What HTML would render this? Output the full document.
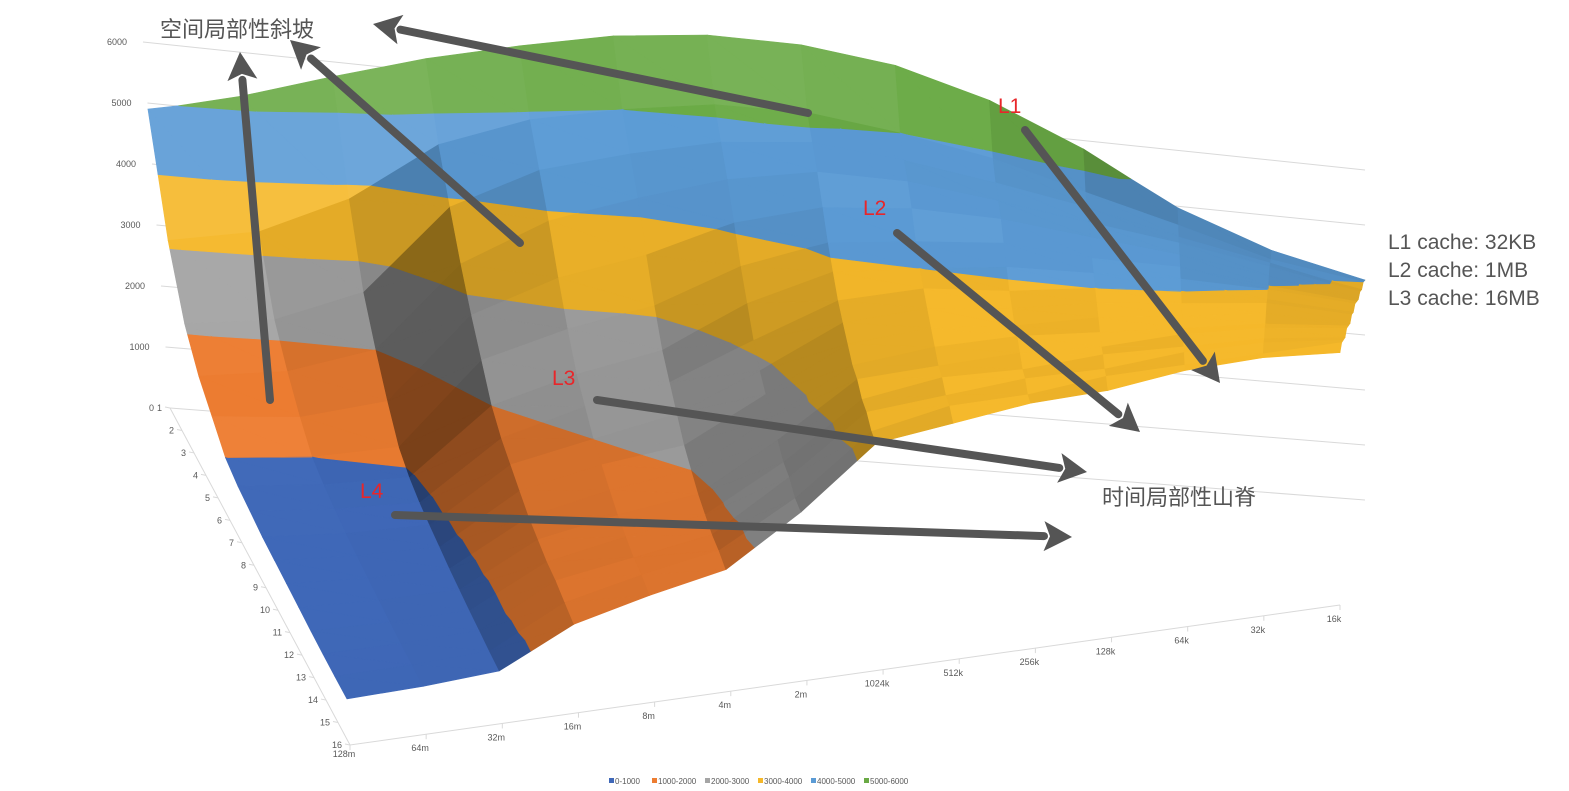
<!DOCTYPE html>
<html><head><meta charset="utf-8">
<style>
html,body{margin:0;padding:0;background:#fff;}
body{width:1569px;height:791px;overflow:hidden;font-family:"Liberation Sans","Noto Sans CJK SC",sans-serif;position:relative;}
svg{display:block}
</style></head>
<body>
<svg id="chart" width="1569" height="791" viewBox="0 0 1569 791" xmlns="http://www.w3.org/2000/svg">
<g id="grid"></g>
<g id="axes"></g>
<g id="surface"></g>
<g id="notes"></g>
<g id="legend"></g>
</svg>
<script>
const sizeLabels=["128m","64m","32m","16m","8m","4m","2m","1024k","512k","256k","128k","64k","32k","16k"];
const strideLabels=["1","2","3","4","5","6","7","8","9","10","11","12","13","14","15","16"];
const zTicks=[0,1000,2000,3000,4000,5000,6000];
const bandNames=["0-1000","1000-2000","2000-3000","3000-4000","4000-5000","5000-6000"];
const bandColors=["#3f68b8","#ed7d31","#a5a5a5","#f5b82a","#5b9bd5","#6aaa45"];
const s1=[4900,5200,5500,5700,5800,5900,5950,5950,5900,5700,5300,4700,4300,4000];
const s2=[3100,3300,3800,4600,4900,5000,5100,5100,5000,4900,4700,4500,4200,4000];
const s3=[2100,2200,2600,3900,4400,4600,4800,4900,4800,4700,4600,4400,4200,3900];
const s4=[1600,1700,2000,3300,3900,4200,4500,4700,4700,4600,4500,4400,4200,3900];
const s5=[1300,1300,1500,2800,3300,3600,4100,4400,4500,4500,4400,4300,4100,3800];
const s6=[1000,1000,1100,2400,2800,3100,3700,4100,4200,4300,4200,4200,4000,3800];
const s7=[900,900,950,2000,2400,2700,3400,3900,4000,4100,4100,4100,4000,3800];
const s8=[850,850,880,1800,2200,2500,3100,3700,3900,3900,4000,4000,3900,3700];
const s9=[800,800,850,1700,2000,2300,2900,3600,3800,3800,3900,3900,3900,3700];
const s10=[780,780,830,1600,1900,2100,2800,3500,3700,3700,3800,3800,3800,3600];
const s11=[760,760,810,1500,1800,2000,2700,3400,3600,3700,3700,3700,3700,3600];
const s12=[740,745,800,1450,1700,1900,2600,3400,3500,3600,3600,3700,3700,3600];
const s13=[720,735,790,1400,1650,1850,2500,3300,3500,3500,3600,3600,3600,3500];
const s14=[710,730,790,1400,1600,1800,2500,3300,3400,3500,3500,3600,3600,3500];
const s15=[700,725,780,1350,1600,1800,2400,3200,3400,3400,3500,3500,3500,3500];
const s16=[700,720,780,1300,1550,1750,2400,3200,3300,3400,3400,3500,3500,3400];
const rows=[s1,s2,s3,s4,s5,s6,s7,s8,s9,s10,s11,s12,s13,s14,s15,s16];

const NS="http://www.w3.org/2000/svg";
function el(tag,attrs,parent){const e=document.createElementNS(NS,tag);for(const k in attrs)e.setAttribute(k,attrs[k]);parent.appendChild(e);return e;}
const F00=[170,408],F01=[1365,500],F10=[350,745],F11=[1340,605];
function P(u,v,z){
  const bx=(1-u)*(1-v)*F00[0]+u*(1-v)*F01[0]+(1-u)*v*F10[0]+u*v*F11[0];
  let by=(1-u)*(1-v)*F00[1]+u*(1-v)*F01[1]+(1-u)*v*F10[1]+u*v*F11[1];
  const sp=Math.sin(Math.PI*u);
  by-=70*sp*sp*(1-v)*(1-v);
  const sc=(61+(55-61)*u)*(1+0.08*v+0.27*u*v);
  return [bx-z/1000*4.5*(1-u),by-z/1000*sc];
}
const nU=sizeLabels.length-1,nV=strideLabels.length-1;
const grid=document.getElementById('grid');
zTicks.forEach(z=>{
  const a=P(0,0,z),b=P(1,0,z);
  const l=el('line',{x1:a[0],y1:a[1],x2:b[0],y2:b[1],stroke:"#d9d9d9","stroke-width":1},grid);
  
  
  const t=el('text',{x:a[0]-16,y:a[1]+3,"font-size":9,fill:"#595959","text-anchor":"end"},grid);
  
  
  t.textContent=z;
});
const axes=document.getElementById('axes');
{const a=P(0,0,0),b=P(0,1,0),c=P(1,1,0);
 el('polyline',{points:`${a} ${b} ${c}`,fill:"none",stroke:"#d9d9d9","stroke-width":1},axes);}
strideLabels.forEach((s,j)=>{
  const p=P(0,j/nV,0);
  el('line',{x1:p[0],y1:p[1],x2:p[0]-5,y2:p[1]-1,stroke:"#d9d9d9"},axes);
  const t=el('text',{x:p[0]-8,y:p[1]+3,"font-size":9,fill:"#595959","text-anchor":"end"},axes);
  
  
  t.textContent=s;
});
sizeLabels.forEach((s,i)=>{
  const p=P(i/nU,1,0);
  el('line',{x1:p[0],y1:p[1],x2:p[0],y2:p[1]+5,stroke:"#d9d9d9"},axes);
  const t=el('text',{x:p[0]-6,y:p[1]+(i==0?12:17),"font-size":9,fill:"#595959","text-anchor":"middle"},axes);
  
  
  t.textContent=s;
});
function shade(hex,f){const n=parseInt(hex.slice(1),16);let r=n>>16,g=(n>>8)&255,b=n&255;
 if(f>1){r=r+(255-r)*(f-1);g=g+(255-g)*(f-1);b=b+(255-b)*(f-1);}else{r*=f;g*=f;b*=f;}
 return `rgb(${Math.round(r)},${Math.round(g)},${Math.round(b)})`;}
function clip(poly,lim,keepAbove){
  const out=[];
  for(let k=0;k<poly.length;k++){
    const a=poly[k],b=poly[(k+1)%poly.length];
    const ia=keepAbove?a[2]>=lim:a[2]<=lim, ib=keepAbove?b[2]>=lim:b[2]<=lim;
    if(ia)out.push(a);
    if(ia!==ib){const t=(lim-a[2])/(b[2]-a[2]);out.push([a[0]+(b[0]-a[0])*t,a[1]+(b[1]-a[1])*t,lim]);}
  }
  return out;
}
const tris=[];
for(let j=0;j<nV;j++)for(let i=0;i<nU;i++){
  const c=[[i,j],[i+1,j],[i+1,j+1],[i,j+1]];
  tris.push([c[0],c[1],c[2]]);tris.push([c[0],c[2],c[3]]);
}
tris.sort((a,b)=>{
  const da=a.reduce((s,p)=>s+p[1]*3-p[0]*0.5,0),db=b.reduce((s,p)=>s+p[1]*3-p[0]*0.5,0);return da-db;});
const surf=document.getElementById('surface');
tris.forEach(t=>{
  const verts=t.map(p=>[p[0]/nU,p[1]/nV,rows[p[1]][p[0]]]);
  const i0=t[0][0],j0=t[0][1];
  const dzu=rows[j0][Math.min(nU,i0+1)]-rows[j0][i0];
  const dzv=rows[Math.min(nV,j0+1)][i0]-rows[j0][i0];
  let f=1.0-Math.abs(dzu)/2600-dzv/9000;
  f=Math.max(0.5,Math.min(1.15,f));
  for(let k=0;k<6;k++){
    let pg=clip(verts,k*1000,true);
    if(pg.length<3)continue;
    if(k<5)pg=clip(pg,(k+1)*1000,false);
    if(pg.length<3)continue;
    const col=shade(bandColors[k],f);
    const pts=pg.map(q=>P(q[0],q[1],q[2]).map(x=>x.toFixed(1)).join(',')).join(' ');
    const poly=el('polygon',{points:pts,fill:col,stroke:col,"stroke-width":0.6,"stroke-linejoin":"round"},surf);
    
    
  }
});
</script>
<script>
(function(){
const NS="http://www.w3.org/2000/svg";
const notes=document.getElementById('notes');
function arrow(x1,y1,x2,y2,name){
  const dx=x2-x1,dy=y2-y1,L=Math.hypot(dx,dy),ux=dx/L,uy=dy/L;
  const hx=x2-ux*28,hy=y2-uy*28;
  const g=document.createElementNS(NS,'g');
  
  
  const ln=document.createElementNS(NS,'line');
  ln.setAttribute('x1',x1);ln.setAttribute('y1',y1);ln.setAttribute('x2',hx);ln.setAttribute('y2',hy);
  ln.setAttribute('stroke','#555');ln.setAttribute('stroke-width','8');ln.setAttribute('stroke-linecap','round');
  g.appendChild(ln);
  const pg=document.createElementNS(NS,'polygon');
  const px=-uy,py=ux;
  pg.setAttribute('points',`${x2},${y2} ${hx+px*15},${hy+py*15} ${hx+ux*6},${hy+uy*6} ${hx-px*15},${hy-py*15}`);
  pg.setAttribute('fill','#555');
  g.appendChild(pg);
  notes.appendChild(g);
}
arrow(270,400,240,52,'arrow-spatial-1');
arrow(520,243,290,40,'arrow-spatial-2');
arrow(808,113,373,24,'arrow-spatial-3');
arrow(1025,130,1220,383,'arrow-l1');
arrow(897,233,1140,432,'arrow-l2');
arrow(597,400,1087,472,'arrow-l3');
arrow(395,515,1072,537,'arrow-l4');
})();
</script>
<svg style="position:absolute;left:0;top:0" width="1569" height="791">
<text x="160" y="37" font-size="22" fill="#555" font-family="Liberation Sans, Noto Sans CJK SC, sans-serif">空间局部性斜坡</text>
<text x="1102" y="505" font-size="22" fill="#555" font-family="Liberation Sans, Noto Sans CJK SC, sans-serif">时间局部性山脊</text>
<text x="1388" y="249" font-size="21" fill="#555" font-family="Liberation Sans, sans-serif">L1 cache: 32KB</text>
<text x="1388" y="277" font-size="21" fill="#555" font-family="Liberation Sans, sans-serif">L2 cache: 1MB</text>
<text x="1388" y="305" font-size="21" fill="#555" font-family="Liberation Sans, sans-serif">L3 cache: 16MB</text>
<text x="998" y="113" font-size="21" fill="#e8262a" font-family="Liberation Sans, sans-serif">L1</text>
<text x="863" y="215" font-size="21" fill="#e8262a" font-family="Liberation Sans, sans-serif">L2</text>
<text x="552" y="385" font-size="21" fill="#e8262a" font-family="Liberation Sans, sans-serif">L3</text>
<text x="360" y="498" font-size="21" fill="#e8262a" font-family="Liberation Sans, sans-serif">L4</text>
</svg>
<script>
(function(){
const NS="http://www.w3.org/2000/svg";
const lg=document.getElementById('legend');
let x=609;
bandNames.forEach((n,i)=>{
  const r=document.createElementNS(NS,'rect');
  r.setAttribute('x',x);r.setAttribute('y',778);r.setAttribute('width',5);r.setAttribute('height',5);r.setAttribute('fill',bandColors[i]);
  
  
  lg.appendChild(r);
  const t=document.createElementNS(NS,'text');
  t.setAttribute('x',x+6);t.setAttribute('y',784);t.setAttribute('font-size','8');t.setAttribute('fill','#595959');
  
  
  t.textContent=n;lg.appendChild(t);
  x+= i==0?43:53;
});
})();
</script>
</body></html>
